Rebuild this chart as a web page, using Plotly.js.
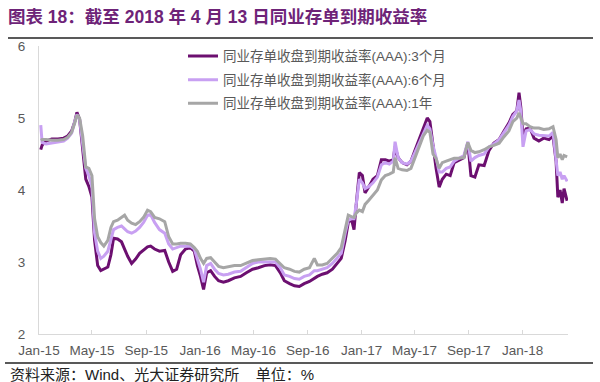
<!DOCTYPE html>
<html>
<head>
<meta charset="utf-8">
<script src="https://cdn.plot.ly/plotly-3.0.1.min.js"></script>
<style>html,body{margin:0;padding:0;background:#fff;}#chart{width:600px;height:382px;}</style>
</head>
<body>
<div id="chart"></div>
<script>
var dates = [
'2015-01-05','2015-01-08','2015-01-17','2015-01-30','2015-02-13','2015-02-26','2015-03-07','2015-03-16','2015-03-23','2015-03-28',
'2015-04-03','2015-04-10','2015-04-17','2015-04-24','2015-05-01','2015-05-07','2015-05-14','2015-05-21','2015-05-28','2015-06-06',
'2015-06-13','2015-06-19','2015-06-28','2015-07-07','2015-07-14','2015-07-21','2015-07-30','2015-08-08','2015-08-17','2015-08-26',
'2015-09-04','2015-09-11','2015-09-20','2015-10-01','2015-10-13','2015-10-22','2015-10-31','2015-11-09','2015-11-18','2015-11-29',
'2015-12-10','2015-12-19','2015-12-26','2016-01-02','2016-01-09','2016-01-16','2016-01-25','2016-02-03','2016-02-12','2016-02-23',
'2016-03-05','2016-03-19','2016-04-02','2016-04-15','2016-04-29','2016-05-12','2016-05-26','2016-06-08','2016-06-20','2016-07-01',
'2016-07-10','2016-07-22','2016-08-02','2016-08-13','2016-08-24','2016-09-05','2016-09-16','2016-09-23','2016-10-04','2016-10-15',
'2016-10-27','2016-11-07','2016-11-16','2016-11-25','2016-12-02','2016-12-09','2016-12-15','2016-12-20','2016-12-27','2017-01-03',
'2017-01-09','2017-01-18','2017-01-27','2017-02-06','2017-02-15','2017-02-24','2017-03-05','2017-03-14','2017-03-18','2017-03-25',
'2017-04-03','2017-04-14','2017-04-23','2017-05-02','2017-05-11','2017-05-21','2017-05-30','2017-06-05','2017-06-12','2017-06-19',
'2017-06-26','2017-07-03','2017-07-12','2017-07-21','2017-07-30','2017-08-10','2017-08-21','2017-08-30','2017-09-06','2017-09-15',
'2017-09-24','2017-10-06','2017-10-17','2017-10-28','2017-11-09','2017-11-20','2017-12-01','2017-12-10','2017-12-19','2017-12-24',
'2017-12-28','2018-01-02','2018-01-09','2018-01-18','2018-01-27','2018-02-07','2018-02-18','2018-03-02','2018-03-11','2018-03-18',
'2018-03-22','2018-03-27','2018-04-01','2018-04-05','2018-04-12'
];
var yield3m = [
4.56,4.62,4.68,4.71,4.71,4.72,4.75,4.82,4.95,5.08,
4.98,4.55,4.15,4.05,3.90,3.30,2.95,2.88,2.90,2.93,
3.10,3.33,3.32,3.28,3.18,3.08,2.98,3.04,3.12,3.16,
3.21,3.22,3.18,3.15,3.16,3.00,2.87,2.90,3.10,3.18,
3.20,3.15,2.95,2.80,2.62,2.85,2.88,2.80,2.74,2.72,
2.74,2.78,2.80,2.85,2.90,2.92,2.95,2.96,2.95,2.85,
2.74,2.70,2.67,2.66,2.70,2.73,2.78,2.80,2.83,2.85,
2.90,2.98,3.05,3.30,3.55,3.60,3.45,3.80,4.24,4.20,
3.96,4.05,4.15,4.20,4.42,4.42,4.40,4.42,4.60,4.45,
4.38,4.35,4.40,4.55,4.70,4.85,5.00,4.95,4.60,4.30,
4.04,4.15,4.22,4.20,4.38,4.42,4.45,4.65,4.20,4.18,
4.35,4.34,4.55,4.65,4.70,4.82,4.93,5.05,5.10,5.35,
5.15,4.75,4.85,4.86,4.72,4.68,4.72,4.70,4.75,4.40,
3.90,4.00,3.82,4.02,3.85
];
var yield6m = [
4.90,4.66,4.64,4.65,4.66,4.68,4.72,4.79,4.95,5.05,
4.98,4.65,4.30,4.20,4.05,3.40,3.15,3.05,3.08,3.15,
3.30,3.45,3.48,3.50,3.46,3.42,3.40,3.43,3.48,3.55,
3.65,3.66,3.55,3.45,3.40,3.25,3.18,3.20,3.22,3.22,
3.22,3.18,3.05,2.90,2.72,2.95,2.98,2.90,2.84,2.82,
2.83,2.86,2.87,2.92,2.98,3.00,3.00,3.01,3.00,2.92,
2.82,2.80,2.77,2.76,2.80,2.82,2.88,2.88,2.90,2.92,
2.98,3.05,3.12,3.40,3.58,3.60,3.60,3.80,4.15,4.10,
4.02,4.05,4.10,4.18,4.35,4.38,4.36,4.40,4.67,4.45,
4.38,4.36,4.40,4.52,4.65,4.78,4.90,4.85,4.62,4.45,
4.25,4.25,4.30,4.32,4.40,4.44,4.48,4.67,4.40,4.45,
4.48,4.50,4.60,4.64,4.70,4.80,4.90,5.02,5.10,5.25,
5.10,4.60,4.82,4.84,4.78,4.76,4.76,4.75,4.80,4.45,
4.20,4.25,4.15,4.20,4.12
];
var yield1y = [
4.69,4.70,4.70,4.69,4.69,4.70,4.73,4.80,4.93,5.04,
5.00,4.75,4.32,4.30,4.20,3.60,3.35,3.27,3.22,3.30,
3.48,3.56,3.58,3.62,3.65,3.58,3.54,3.52,3.56,3.62,
3.72,3.70,3.62,3.60,3.56,3.35,3.25,3.25,3.26,3.26,
3.25,3.20,3.15,3.05,2.98,3.05,3.06,3.00,2.94,2.92,
2.93,2.95,2.95,2.98,3.02,3.03,3.04,3.05,3.04,2.98,
2.92,2.90,2.87,2.86,2.90,2.92,3.05,2.96,2.96,2.98,
3.05,3.12,3.20,3.45,3.65,3.63,3.62,3.68,3.72,3.70,
3.80,3.86,3.92,4.00,4.14,4.20,4.22,4.25,4.45,4.30,
4.28,4.27,4.30,4.45,4.60,4.75,4.83,4.80,4.50,4.44,
4.30,4.38,4.40,4.42,4.44,4.44,4.45,4.66,4.55,4.52,
4.53,4.56,4.60,4.62,4.65,4.74,4.82,4.95,5.00,5.07,
5.00,4.92,4.92,4.88,4.86,4.86,4.84,4.85,4.88,4.70,
4.45,4.50,4.42,4.48,4.46
];
var seriesNames = ['同业存单收盘到期收益率(AAA):3个月','同业存单收盘到期收益率(AAA):6个月','同业存单收盘到期收益率(AAA):1年'];
var titleText = '图表 18：截至 2018 年 4 月 13 日同业存单到期收益率';
var sourceText = '资料来源：Wind、光大证券研究所\u00a0\u00a0\u00a0\u00a0单位：%';

var FONT = 'Liberation Sans, Arial, Noto Sans CJK SC, sans-serif';
var colors = ['#6c0f70','#c8a0f2','#a6a6a6'];
var ys = [yield3m, yield6m, yield1y];
var traces = ys.map(function(y, i){
  return {x: dates, y: y, type: 'scatter', mode: 'lines', name: seriesNames[i],
    legendgroup: 'g' + i,
    line: {color: colors[i], width: 3, shape: 'linear'}};
});

var layout = {
  width: 600, height: 382,
  margin: {l: 39, r: 32, t: 46, b: 48},
  paper_bgcolor: '#fff', plot_bgcolor: '#fff',
  font: {family: FONT, color: '#595959', size: 13.5},
  title: {text: '<b>' + titleText + '</b>', xref: 'container', yref: 'container', x: 8/600, xanchor: 'left', y: 1 - 17/382, yanchor: 'middle',
    font: {family: FONT, size: 17.5, color: '#6e2378'}},
  xaxis: {type: 'date', range: ['2015-01-01', '2018-04-14'], tick0: '2015-01-01', dtick: 'M4', tickformat: '%b-%y',
    showgrid: false, zeroline: false, showline: true, linecolor: '#d9d9d9', linewidth: 1,
    ticks: 'inside', ticklen: 4, tickcolor: '#d9d9d9', ticklabelstandoff: 4,
    tickfont: {size: 13.5, color: '#595959'}},
  yaxis: {range: [2, 6], dtick: 1, showgrid: false, zeroline: false, showline: true, linecolor: '#d9d9d9', linewidth: 1,
    ticks: '', ticklabelstandoff: 10, tickfont: {size: 13.5, color: '#595959'}},
  showlegend: true,
  legend: {x: (183-39)/529, xanchor: 'left', y: 1.018, yanchor: 'top', bgcolor: 'rgba(0,0,0,0)', tracegroupgap: 3,
    font: {size: 13.5, color: '#595959'}},
  shapes: [
    {type: 'line', xref: 'paper', yref: 'paper', x0: (8-39)/529, x1: (593-39)/529, y0: (334-38)/288, y1: (334-38)/288, line: {color: '#222', width: 1.6}},
    {type: 'line', xref: 'paper', yref: 'paper', x0: (5-39)/529, x1: (593-39)/529, y0: (334-363)/288, y1: (334-363)/288, line: {color: '#222', width: 1.6}}
  ],
  annotations: [
    {text: sourceText, xref: 'paper', yref: 'paper', x: (8-39)/529, xanchor: 'left', y: (334-374)/288, yanchor: 'middle', showarrow: false,
      font: {size: 15, color: '#222'}}
  ]
};
Plotly.newPlot('chart', traces, layout, {displayModeBar: false, staticPlot: true});
</script>
</body>
</html>
